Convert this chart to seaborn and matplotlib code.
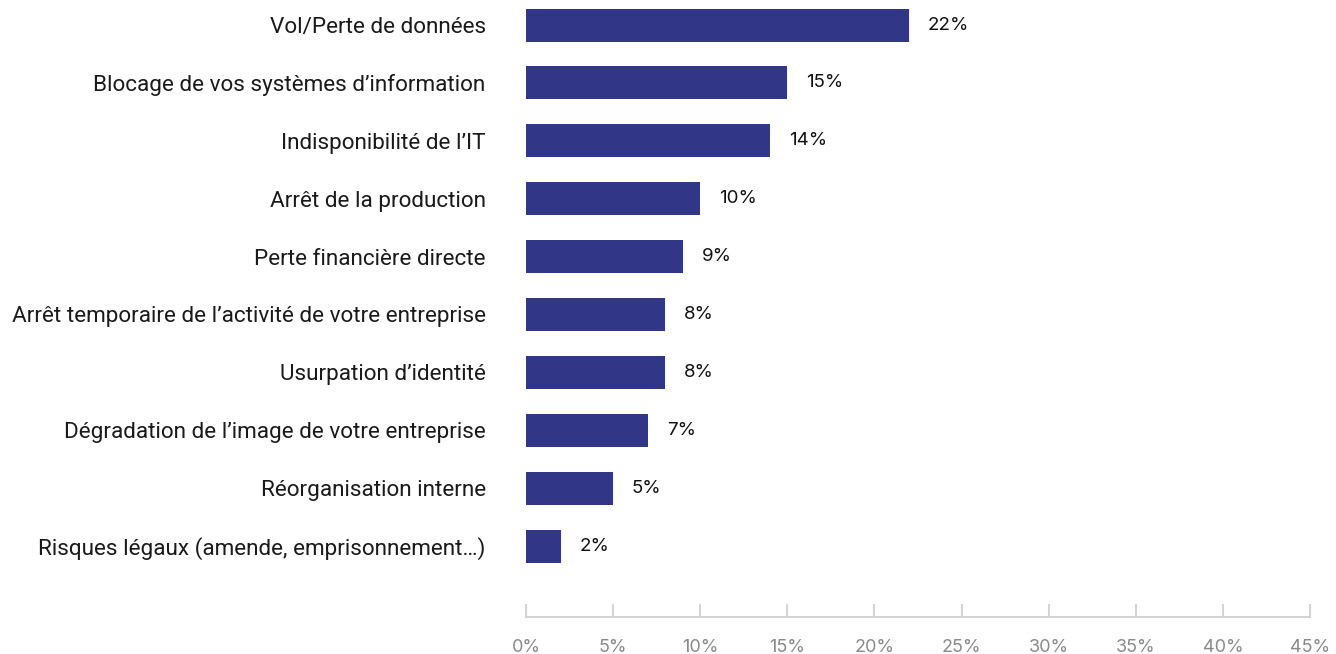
import matplotlib
matplotlib.use("Agg")
import matplotlib.pyplot as plt
import seaborn as sns
import pandas as pd

categories = [
    "Vol/Perte de données",
    "Blocage de vos systèmes d’information",
    "Indisponibilité de l’IT",
    "Arrêt de la production",
    "Perte financière directe",
    "Arrêt temporaire de l’activité de votre entreprise",
    "Usurpation d’identité",
    "Dégradation de l’image de votre entreprise",
    "Réorganisation interne",
    "Risques légaux (amende, emprisonnement…)",
]
values = [22, 15, 14, 10, 9, 8, 8, 7, 5, 2]
xticks = [0, 5, 10, 15, 20, 25, 30, 35, 40, 45]
xtick_labels = [f"{t}%" for t in xticks]

BAR_COLOR = "#313687"
AXIS_COLOR = "#d4d4d4"

sns.set_theme(style="white")
plt.rcParams["font.family"] = ["Roboto", "DejaVu Sans"]

df = pd.DataFrame({"categorie": categories, "valeur": values})

W, H = 1336, 654
fig = plt.figure(figsize=(W / 100, H / 100), dpi=100)
ax = fig.add_axes([526 / W, 1 - 617 / H, 784 / W, 617 / H])

sns.barplot(data=df, x="valeur", y="categorie", orient="h",
            color=BAR_COLOR, saturation=1, width=0.57, linewidth=0, ax=ax)

ax.set_xlim(0, 45)
ax.set_ylim(10.226, -0.432)
ax.set_xlabel("")
ax.set_ylabel("")

# percentage labels at the end of each bar
for i, v in enumerate(values):
    ax.annotate(f"{v}%", xy=(v, i), xytext=(13.5, 0), textcoords="offset points",
                va="center", ha="left", fontsize=13.5, color="#111111",
                family=["Inter", "DejaVu Sans"])

ax.set_xticks(xticks)
ax.set_xticklabels(xtick_labels, family=["Inter", "DejaVu Sans"])
ax.tick_params(axis="x", direction="in", length=9.5, width=1.5, color=AXIS_COLOR,
               labelcolor="#8a8a8a", labelsize=13, pad=16, bottom=True)
ax.tick_params(axis="y", length=0, pad=29, labelsize=16.2, labelcolor="#1a1a1a")

for side in ("left", "top", "right"):
    ax.spines[side].set_visible(False)
ax.spines["bottom"].set_color(AXIS_COLOR)
ax.spines["bottom"].set_linewidth(1.5)
ax.grid(False)

fig.savefig("out.png", dpi=100)
